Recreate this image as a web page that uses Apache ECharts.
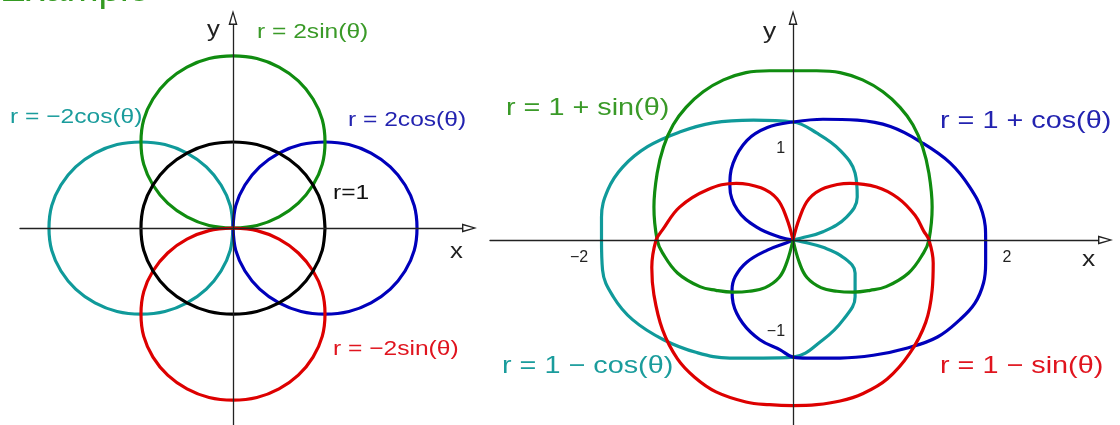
<!DOCTYPE html>
<html>
<head>
<meta charset="utf-8">
<title>Polar curves example</title>
<script src="https://cdn.jsdelivr.net/npm/echarts@6.0.0/dist/echarts.min.js"></script>
<style>
  html, body { margin: 0; padding: 0; background: #fff; }
  #chart { width: 1120px; height: 425px; }
</style>
</head>
<body>
<div id="chart"></div>
<script>
// left panel: circles, points as [x, y]
const unitCircle = [[1, 0], [0.97, 0.26], [0.87, 0.5], [0.71, 0.71], [0.5, 0.87], [0.26, 0.97], [0, 1], [-0.26, 0.97], [-0.5, 0.87],
  [-0.71, 0.71], [-0.87, 0.5], [-0.97, 0.26], [-1, 0], [-0.97, -0.26], [-0.87, -0.5], [-0.71, -0.71], [-0.5, -0.87], [-0.26, -0.97],
  [0, -1], [0.26, -0.97], [0.5, -0.87], [0.71, -0.71], [0.87, -0.5], [0.97, -0.26], [1, 0]]
const twoSin = [[0, 0], [0.26, 0.03], [0.5, 0.13], [0.71, 0.29], [0.87, 0.5], [0.97, 0.74], [1, 1], [0.97, 1.26], [0.87, 1.5],
  [0.71, 1.71], [0.5, 1.87], [0.26, 1.97], [0, 2], [-0.26, 1.97], [-0.5, 1.87], [-0.71, 1.71], [-0.87, 1.5], [-0.97, 1.26],
  [-1, 1], [-0.97, 0.74], [-0.87, 0.5], [-0.71, 0.29], [-0.5, 0.13], [-0.26, 0.03], [0, 0]]
const minusTwoSin = [[0, 0], [0.26, -0.03], [0.5, -0.13], [0.71, -0.29], [0.87, -0.5], [0.97, -0.74], [1, -1], [0.97, -1.26], [0.87, -1.5],
  [0.71, -1.71], [0.5, -1.87], [0.26, -1.97], [0, -2], [-0.26, -1.97], [-0.5, -1.87], [-0.71, -1.71], [-0.87, -1.5], [-0.97, -1.26],
  [-1, -1], [-0.97, -0.74], [-0.87, -0.5], [-0.71, -0.29], [-0.5, -0.13], [-0.26, -0.03], [0, 0]]
const twoCos = [[0, 0], [0.03, 0.26], [0.13, 0.5], [0.29, 0.71], [0.5, 0.87], [0.74, 0.97], [1, 1], [1.26, 0.97], [1.5, 0.87],
  [1.71, 0.71], [1.87, 0.5], [1.97, 0.26], [2, 0], [1.97, -0.26], [1.87, -0.5], [1.71, -0.71], [1.5, -0.87], [1.26, -0.97],
  [1, -1], [0.74, -0.97], [0.5, -0.87], [0.29, -0.71], [0.13, -0.5], [0.03, -0.26], [0, 0]]
const minusTwoCos = [[0, 0], [-0.03, 0.26], [-0.13, 0.5], [-0.29, 0.71], [-0.5, 0.87], [-0.74, 0.97], [-1, 1], [-1.26, 0.97], [-1.5, 0.87],
  [-1.71, 0.71], [-1.87, 0.5], [-1.97, 0.26], [-2, 0], [-1.97, -0.26], [-1.87, -0.5], [-1.71, -0.71], [-1.5, -0.87], [-1.26, -0.97],
  [-1, -1], [-0.74, -0.97], [-0.5, -0.87], [-0.29, -0.71], [-0.13, -0.5], [-0.03, -0.26], [0, 0]]

// right panel: traced curves, read against the -2/2 and -1/1 tick labels
const onePlusSin = [[0, 0], [0.06, -0.25], [0.13, -0.41], [0.26, -0.52], [0.41, -0.56], [0.56, -0.57], [0.72, -0.55], [0.87, -0.51],
  [1.08, -0.36], [1.22, -0.14], [1.27, 0], [1.30, 0.36], [1.27, 0.73], [1.21, 1.02], [1.12, 1.26], [1.00, 1.45], [0.84, 1.62],
  [0.65, 1.75], [0.44, 1.83], [0.22, 1.85], [0, 1.85], [-0.22, 1.85], [-0.44, 1.83], [-0.65, 1.75], [-0.84, 1.62], [-1.00, 1.45],
  [-1.12, 1.26], [-1.21, 1.02], [-1.27, 0.73], [-1.30, 0.36], [-1.27, 0], [-1.22, -0.14], [-1.08, -0.36], [-0.87, -0.51],
  [-0.72, -0.55], [-0.56, -0.57], [-0.41, -0.56], [-0.26, -0.52], [-0.13, -0.41], [-0.06, -0.25], [0, 0]]
const oneMinusSin = [[0, 0], [0.06, 0.24], [0.15, 0.45], [0.30, 0.57], [0.53, 0.62], [0.78, 0.58], [0.98, 0.46], [1.14, 0.27],
  [1.22, 0.10], [1.27, 0], [1.31, -0.25], [1.30, -0.55], [1.24, -0.90], [1.09, -1.24], [0.88, -1.52], [0.65, -1.68], [0.44, -1.76],
  [0.22, -1.80], [0, -1.81], [-0.22, -1.80], [-0.44, -1.77], [-0.72, -1.66], [-0.92, -1.50], [-1.08, -1.30], [-1.22, -0.98],
  [-1.30, -0.60], [-1.32, -0.30], [-1.28, 0], [-1.22, 0.11], [-1.06, 0.36], [-0.80, 0.55], [-0.53, 0.62], [-0.30, 0.57],
  [-0.15, 0.45], [-0.06, 0.24], [0, 0]]
const onePlusCos = [[0, 0], [-0.12, 0.03], [-0.34, 0.14], [-0.52, 0.33], [-0.59, 0.58], [-0.56, 0.84], [-0.43, 1.09], [-0.24, 1.23],
  [0, 1.29], [0.28, 1.32], [0.60, 1.31], [0.91, 1.24], [1.21, 1.06], [1.47, 0.84], [1.65, 0.58], [1.77, 0.30], [1.80, 0],
  [1.80, -0.25], [1.78, -0.47], [1.70, -0.69], [1.56, -0.87], [1.35, -1.06], [1.07, -1.18], [0.75, -1.26], [0.44, -1.29],
  [0.13, -1.29], [0, -1.28], [-0.12, -1.20], [-0.31, -1.09], [-0.47, -0.91], [-0.56, -0.69], [-0.57, -0.55], [-0.54, -0.40],
  [-0.43, -0.24], [-0.24, -0.11], [-0.06, -0.03], [0, 0]]
const oneMinusCos = [[0, 0], [0.07, 0.02], [0.28, 0.09], [0.50, 0.25], [0.60, 0.47], [0.58, 0.73], [0.44, 0.98], [0.22, 1.17],
  [0, 1.29], [-0.37, 1.31], [-0.75, 1.28], [-1.06, 1.18], [-1.36, 1.02], [-1.59, 0.80], [-1.73, 0.55], [-1.79, 0.25], [-1.79, 0],
  [-1.78, -0.33], [-1.68, -0.62], [-1.50, -0.87], [-1.21, -1.09], [-0.90, -1.23], [-0.59, -1.29], [-0.28, -1.29], [0, -1.28],
  [0.28, -1.09], [0.47, -0.87], [0.58, -0.62], [0.58, -0.36], [0.47, -0.19], [0.28, -0.08], [0.09, -0.02], [0, 0]]

// tick labels of the right panel
const xTickValues = [-2, 2]
const yTickValues = [-1, 1]

const GREEN = '#108c10'
const TEAL = '#109a9a'
const BLUE = '#0000bb'
const RED = '#dd0000'
const FONT = '"Liberation Sans", Arial, sans-serif'

// axis ranges (data units) and grid boxes (px)
const leftX = [-2.315, 2.489]
const leftY = [-2.29, 2.36]
const rightX = [-2.832, 2.85]
const rightY = [-2.022, 2.35]
const leftGrid = { left: 20, top: 25, width: 442, height: 400 }
const rightGrid = { left: 490, top: 25, width: 608, height: 400 }

// open arrow head (outline only), tip up
const arrowPath = 'path://M4.5,0L9,15L0,15Z M4.5,4.2L1.9,13.6L7.1,13.6Z'

function axisLine(onZero) {
  return {
    onZero: onZero,
    lineStyle: { color: '#222', width: 1.3 },
    symbol: ['none', arrowPath],
    symbolSize: [9, 15],
    symbolOffset: [0, 7.5]
  }
}

function minusSign(v) {
  return v < 0 ? '\u2212' + Math.abs(v) : String(v)
}

function curve(idx, data, color, smooth) {
  return {
    type: 'line',
    xAxisIndex: idx,
    yAxisIndex: idx,
    data: data,
    smooth: smooth,
    symbol: 'none',
    showSymbol: false,
    silent: true,
    z: 2,
    lineStyle: { color: color, width: 3.2 }
  }
}

function text(str, x, y, color, size, sx) {
  return {
    type: 'text',
    x: x,
    y: y,
    scaleX: sx,
    silent: true,
    style: {
      text: str,
      fill: color,
      font: size + 'px ' + FONT,
      textAlign: 'left',
      align: 'left',
      textVerticalAlign: 'middle',
      verticalAlign: 'middle'
    }
  }
}

// right panel axes sit on the zero lines; offsets keep their labels with them
const rightYOffset = -rightGrid.width * (0 - rightX[0]) / (rightX[1] - rightX[0])
const rightXOffset = -rightGrid.height * (0 - rightY[0]) / (rightY[1] - rightY[0])

const chart = echarts.init(document.getElementById('chart'))

chart.setOption({
  animation: false,
  backgroundColor: '#fff',
  grid: [
    Object.assign({ outerBoundsMode: 'none' }, leftGrid),
    Object.assign({ outerBoundsMode: 'none' }, rightGrid)
  ],
  xAxis: [
    {
      type: 'value', gridIndex: 0, min: leftX[0], max: leftX[1], z: 10,
      axisLine: axisLine(true), axisTick: { show: false }, axisLabel: { show: false }, splitLine: { show: false }
    },
    {
      type: 'value', gridIndex: 1, min: rightX[0], max: rightX[1], z: 10,
      position: 'bottom', offset: rightXOffset,
      axisLine: axisLine(false), axisTick: { show: false }, splitLine: { show: false },
      axisLabel: {
        customValues: xTickValues, formatter: minusSign, margin: 10,
        fontSize: 16, color: '#222', fontFamily: FONT
      }
    }
  ],
  yAxis: [
    {
      type: 'value', gridIndex: 0, min: leftY[0], max: leftY[1], z: 10,
      axisLine: axisLine(true), axisTick: { show: false }, axisLabel: { show: false }, splitLine: { show: false }
    },
    {
      type: 'value', gridIndex: 1, min: rightY[0], max: rightY[1], z: 10,
      position: 'left', offset: rightYOffset,
      axisLine: axisLine(false), axisTick: { show: false }, splitLine: { show: false },
      axisLabel: {
        customValues: yTickValues, formatter: minusSign, margin: 8,
        fontSize: 16, color: '#222', fontFamily: FONT
      }
    }
  ],
  series: [
    curve(0, minusTwoCos, TEAL, 0.34),
    curve(0, twoCos, BLUE, 0.34),
    curve(0, twoSin, GREEN, 0.34),
    curve(0, minusTwoSin, RED, 0.34),
    curve(0, unitCircle, '#000', 0.34),
    curve(1, oneMinusCos, TEAL, 0.4),
    curve(1, onePlusCos, BLUE, 0.4),
    curve(1, onePlusSin, GREEN, 0.4),
    curve(1, oneMinusSin, RED, 0.4)
  ],
  graphic: [
    {
      type: 'text', x: 0, y: 9, scaleX: 1.07, silent: true,
      style: {
        text: 'Example', fill: '#349a22', font: '36px ' + FONT,
        textAlign: 'left', align: 'left', textVerticalAlign: 'bottom', verticalAlign: 'bottom'
      }
    },
    // left panel
    text('y', 207, 30, '#222', 22, 1.17),
    text('x', 450, 252, '#222', 22, 1.17),
    text('r = 2sin(θ)', 257, 32, '#3a9a28', 21, 1.17),
    text('r = \u22122cos(θ)', 10, 117, '#1a9c9c', 21, 1.17),
    text('r = 2cos(θ)', 348, 120, '#2323b0', 21, 1.17),
    text('r=1', 333, 193, '#111', 21, 1.17),
    text('r = \u22122sin(θ)', 333, 349, '#e0141e', 21, 1.17),
    // right panel
    text('y', 763, 32, '#222', 22, 1.2),
    text('x', 1082, 260, '#222', 22, 1.2),
    text('r = 1 + sin(θ)', 506, 108, '#3a9a28', 24, 1.2),
    text('r = 1 + cos(θ)', 940, 121, '#2323b0', 24, 1.2),
    text('r = 1 \u2212 cos(θ)', 502, 366, '#1a9c9c', 24, 1.2),
    text('r = 1 \u2212 sin(θ)', 940, 366, '#e0141e', 24, 1.2)
  ]
})
</script>
</body>
</html>
